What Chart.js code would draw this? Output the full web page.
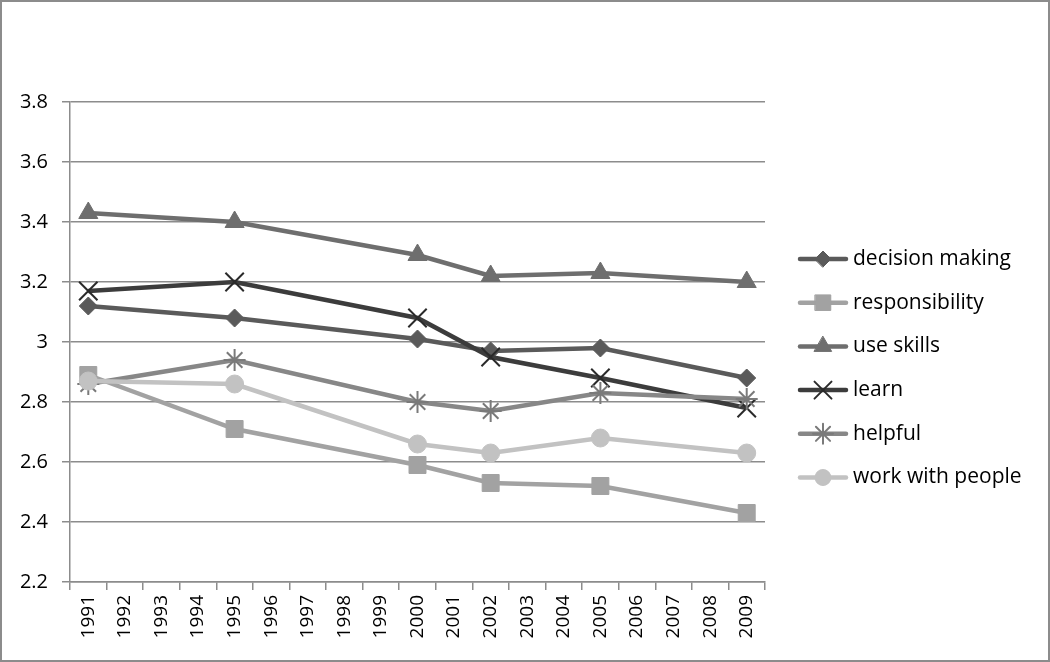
<!DOCTYPE html>
<html>
<head>
<meta charset="utf-8">
<script src="https://cdn.jsdelivr.net/npm/chart.js@4/dist/chart.umd.min.js"></script>
<style>
  html, body { margin: 0; padding: 0; background: #fff; }
  #wrap { width: 1050px; height: 662px; position: relative; }
</style>
</head>
<body>
<div id="wrap"><canvas id="chart"></canvas></div>
<script>
// years on the category axis
const years = ['1991','1992','1993','1994','1995','1996','1997','1998','1999','2000',
               '2001','2002','2003','2004','2005','2006','2007','2008','2009'];
const yTicks = [2.2, 2.4, 2.6, 2.8, 3, 3.2, 3.4, 3.6, 3.8];

// survey values, null where the year was not measured
const decisionMaking = [3.12,null,null,null,3.08,null,null,null,null,3.01,null,2.97,null,null,2.98,null,null,null,2.88];
const responsibility = [2.89,null,null,null,2.71,null,null,null,null,2.59,null,2.53,null,null,2.52,null,null,null,2.43];
const useSkills      = [3.43,null,null,null,3.40,null,null,null,null,3.29,null,3.22,null,null,3.23,null,null,null,3.20];
const learn          = [3.17,null,null,null,3.20,null,null,null,null,3.08,null,2.95,null,null,2.88,null,null,null,2.78];
const helpful        = [2.86,null,null,null,2.94,null,null,null,null,2.80,null,2.77,null,null,2.83,null,null,null,2.81];
const workWithPeople = [2.87,null,null,null,2.86,null,null,null,null,2.66,null,2.63,null,null,2.68,null,null,null,2.63];

const FONT = 'Open Sans';

function series(label, data, color, style, radius, bw, order) {
  return {
    label: label,
    data: data,
    borderColor: color,
    backgroundColor: color,
    borderWidth: 4.5,
    pointStyle: style,
    pointRadius: radius,
    pointHoverRadius: radius,
    pointBorderWidth: bw,
    pointBorderColor: color,
    pointBackgroundColor: color,
    spanGaps: true,
    tension: 0,
    order: order
  };
}

const datasets = [
  series('decision making', decisionMaking, '#5a5a5a', 'rectRot', 9, 1, 6),
  series('responsibility', responsibility, '#a2a2a2', 'rect', 12, 1, 5),
  series('use skills', useSkills, '#6e6e6e', 'triangle', 11, 1, 4),
  series('learn', learn, '#3c3c3c', 'crossRot', 13, 2, 3),
  series('helpful', helpful, '#878787', 'star', 11, 2, 2),
  series('work with people', workWithPeople, '#c2c2c2', 'circle', 9, 1, 1)
];
datasets[3].pointBorderColor = '#2a2a2a';
datasets[4].pointBorderColor = '#7a7a7a';

// hand-drawn legend (line + marker + text) and the outer frame
const legendPlugin = {
  id: 'lineLegend',
  afterDraw(chart) {
    const ctx = chart.ctx;
    ctx.save();
    ctx.strokeStyle = '#8c8c8c';
    ctx.lineWidth = 2;
    ctx.strokeRect(1, 1, chart.width - 2, chart.height - 2);
    chart.data.datasets.forEach((ds, i) => {
      const y = 259 + i * 43.7;
      ctx.strokeStyle = ds.borderColor;
      ctx.lineWidth = 4.5;
      ctx.lineCap = 'round';
      ctx.beginPath();
      ctx.moveTo(800, y);
      ctx.lineTo(846, y);
      ctx.stroke();
      ctx.fillStyle = ds.pointBackgroundColor;
      ctx.strokeStyle = ds.pointBorderColor;
      ctx.lineWidth = ds.pointBorderWidth;
      Chart.helpers.drawPoint(ctx, {
        pointStyle: ds.pointStyle,
        radius: ds.pointRadius - 1,
        rotation: 0,
        borderWidth: ds.pointBorderWidth
      }, 823, y);
      ctx.fillStyle = '#000';
      ctx.font = '21px "' + FONT + '"';
      ctx.textBaseline = 'middle';
      ctx.textAlign = 'left';
      ctx.fillText(ds.label, 853, y);
    });
    ctx.restore();
  }
};

new Chart(document.getElementById('chart'), {
  type: 'line',
  data: { labels: years, datasets: datasets },
  plugins: [legendPlugin],
  options: {
    responsive: true,
    maintainAspectRatio: false,
    animation: false,
    layout: { padding: { left: 0, right: 285, top: 102, bottom: 0 } },
    plugins: { legend: { display: false }, tooltip: { enabled: false } },
    scales: {
      x: {
        type: 'category',
        offset: true,
        grid: { offset: true, drawOnChartArea: false, drawTicks: true, tickLength: 8, color: '#8c8c8c', lineWidth: 1.5 },
        border: { display: true, color: '#8c8c8c', width: 1.5 },
        ticks: { minRotation: 90, maxRotation: 90, autoSkip: false, color: '#000', padding: 5, font: { family: FONT, size: 19 } },
        afterFit: s => { s.height = 80; }
      },
      y: {
        min: 2.2,
        max: 3.8,
        afterBuildTicks: s => { s.ticks = yTicks.map(v => ({ value: v })); },
        grid: { color: '#8c8c8c', lineWidth: 1.5, tickLength: 8 },
        border: { display: true, color: '#8c8c8c', width: 1.5 },
        ticks: {
          color: '#000',
          padding: 14,
          font: { family: FONT, size: 20 },
          callback: v => String(Number(v.toFixed(1)))
        },
        afterFit: s => { s.width = 70; }
      }
    }
  }
});
</script>
</body>
</html>
